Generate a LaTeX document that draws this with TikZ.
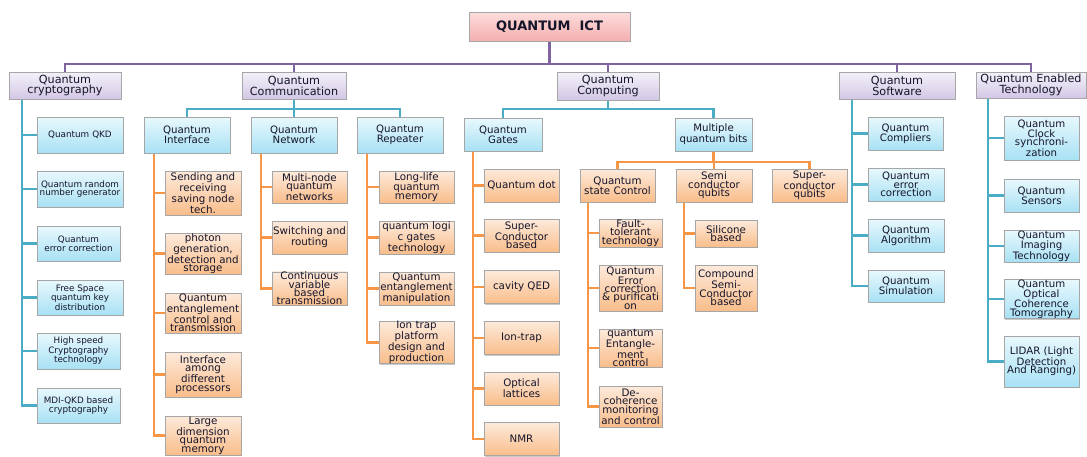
\documentclass[tikz,border=0pt]{standalone}
\usepackage{fontspec}
\setmainfont{DejaVu Sans}
\usetikzlibrary{shadows,backgrounds}
\definecolor{pline}{HTML}{8064A2}
\definecolor{tline}{HTML}{4BACC6}
\definecolor{oline}{HTML}{F79646}
\definecolor{boxgray}{HTML}{A6A6A6}
\definecolor{txt}{HTML}{15152A}
\definecolor{rootTop}{HTML}{FCDDDD}
\definecolor{rootBot}{HTML}{F5AEAE}
\definecolor{purTop}{HTML}{F4F1F9}
\definecolor{purBot}{HTML}{D3C7E5}
\definecolor{bluTop}{HTML}{E8F8FD}
\definecolor{bluBot}{HTML}{A8E1F4}
\definecolor{orTop}{HTML}{FDEADB}
\definecolor{orBot}{HTML}{F9BD8A}
\begin{document}
\begin{tikzpicture}[x=1pt,y=-1pt,
  box/.style={draw=boxgray, line width=0.8pt, inner sep=0pt, align=center, text=txt,
    drop shadow={shadow xshift=1.2pt, shadow yshift=-1.2pt, opacity=0.35, fill=black!60}},
  rootbox/.style={box, top color=rootTop, bottom color=rootBot, font=\fontsize{13}{14}\selectfont\bfseries},
  lvlone/.style={box, top color=purTop, bottom color=purBot, font=\fontsize{11.2}{9.3}\selectfont},
  bluebox/.style={box, top color=bluTop, bottom color=bluBot, font=\fontsize{10.2}{8.4}\selectfont},
  smallblue/.style={box, top color=bluTop, bottom color=bluBot, font=\fontsize{8.8}{7.6}\selectfont},
  orbox/.style={box, top color=orTop, bottom color=orBot, font=\fontsize{10.3}{8.4}\selectfont},
  pcon/.style={draw=pline, line width=2.9pt},
  tcon/.style={draw=tline, line width=2.9pt},
  ocon/.style={draw=oline, line width=2.9pt}]
\useasboundingbox (0,0) rectangle (1087,456);

% root and level one
\node[rootbox, minimum width=161, minimum height=29] (root) at (549.5,26.5) {QUANTUM\hspace{9pt}ICT};
\node[lvlone, minimum width=112, minimum height=27] (crypto) at (65,85.5) {Quantum\\cryptography};
\node[lvlone, minimum width=104, minimum height=27] (comm) at (294,85.5) {Quantum\\Communication};
\node[lvlone, minimum width=102, minimum height=28] (comp) at (608,86) {Quantum\\Computing};
\node[lvlone, minimum width=116, minimum height=27] (soft) at (897,85.5) {Quantum\\Software};
\node[lvlone, minimum width=110, minimum height=26] (enab) at (1031,85) {Quantum Enabled\\Technology};

% cryptography children
\node[smallblue, minimum width=86, minimum height=36] (qkd) at (80,135) {Quantum\hspace{3pt}QKD};
\node[smallblue, minimum width=86, minimum height=36] (qrng) at (80,189) {Quantum random\\number generator};
\node[smallblue, minimum width=83, minimum height=35] (qeca) at (78.5,243.5) {Quantum\\error correction};
\node[smallblue, minimum width=86, minimum height=35] (fsq) at (80,297.5) {Free Space\\quantum key\\distribution};
\node[smallblue, minimum width=83, minimum height=36] (hsc) at (78.5,351) {High speed\\Cryptography\\technology};
\node[smallblue, minimum width=83, minimum height=35] (mdi) at (78.5,405.5) {MDI-QKD based\\cryptography};

% communication children
\node[bluebox, minimum width=86, minimum height=36] (intf) at (187,135) {Quantum\\Interface};
\node[bluebox, minimum width=86, minimum height=36] (netw) at (294,135) {Quantum\\Network};
\node[bluebox, minimum width=86, minimum height=36] (rep) at (400,135) {Quantum\\Repeater};

% interface children
\node[orbox, minimum width=76, minimum height=44] (snd) at (203,193) {Sending and\\receiving\\saving node\\tech.};
\node[orbox, minimum width=76, minimum height=41] (pho) at (203,253.5) {photon\\generation,\\detection and\\storage};
\node[orbox, minimum width=76, minimum height=40] (ent) at (203,313) {Quantum\\entanglement\\control and\\transmission};
\node[orbox, minimum width=76, minimum height=45] (ifc) at (203,374.5) {Interface\\among\\different\\processors};
\node[orbox, minimum width=76, minimum height=39] (ldq) at (203,435.5) {Large\\dimension\\quantum\\memory};

% network children
\node[orbox, minimum width=75, minimum height=32] (mnq) at (309.5,187) {Multi-node\\quantum\\networks};
\node[orbox, minimum width=75, minimum height=33] (sar) at (309.5,237.5) {Switching and\\routing};
\node[orbox, minimum width=75, minimum height=33] (cvb) at (309.5,288.5) {Continuous\\variable\\based\\transmission};

% repeater children
\node[orbox, minimum width=75, minimum height=32] (llq) at (416.5,187) {Long-life\\quantum\\memory};
\node[orbox, minimum width=75, minimum height=33] (qlg) at (416.5,237.5) {quantum logi\\c gates\\technology};
\node[orbox, minimum width=75, minimum height=33] (qem) at (416.5,288.5) {Quantum\\entanglement\\manipulation};
\node[orbox, minimum width=75, minimum height=39] (itp) at (416.5,342.5) {Ion trap\\platform\\design and\\production};

% computing children
\node[bluebox, minimum width=78, minimum height=33] (gates) at (503,134.5) {Quantum\\Gates};
\node[bluebox, minimum width=77, minimum height=33] (mqb) at (713.5,134.5) {Multiple\\quantum bits};

% gates children
\node[orbox, minimum width=75, minimum height=33] (qdot) at (521.5,185.5) {Quantum dot};
\node[orbox, minimum width=75, minimum height=33] (scb) at (521.5,235.5) {Super-\\Conductor\\based};
\node[orbox, minimum width=75, minimum height=33] (cqed) at (521.5,287) {cavity QED};
\node[orbox, minimum width=75, minimum height=33] (iont) at (521.5,338) {Ion-trap};
\node[orbox, minimum width=75, minimum height=33] (optl) at (521.5,388.5) {Optical\\lattices};
\node[orbox, minimum width=75, minimum height=33] (nmr) at (521.5,439) {NMR};

% multiple qubits children
\node[orbox, minimum width=75, minimum height=33] (qsc) at (617.5,185.5) {Quantum\\state Control};
\node[orbox, minimum width=76, minimum height=33] (scq) at (714,185.5) {Semi\\conductor\\qubits};
\node[orbox, minimum width=75, minimum height=33] (supq) at (809.5,185.5) {Super-\\conductor\\qubits};

% state control children
\node[orbox, minimum width=63, minimum height=28] (ftt) at (630.5,233) {Fault-\\tolerant\\technology};
\node[orbox, minimum width=63, minimum height=46] (qecp) at (630.5,288) {Quantum\\Error\\correction\\\& purificati\\on};
\node[orbox, minimum width=63, minimum height=38] (qent) at (630.5,348) {quantum\\Entangle-\\ment\\control};
\node[orbox, minimum width=63, minimum height=41] (dec) at (630.5,406.5) {De-\\coherence\\monitoring\\and control};

% semiconductor children
\node[orbox, minimum width=62, minimum height=27] (sil) at (726,233.5) {Silicone\\based};
\node[orbox, minimum width=62, minimum height=46] (csc) at (726,288) {Compound\\Semi-\\Conductor\\based};

% software children
\node[bluebox, minimum width=75, minimum height=33] (cmpl) at (905.5,133.5) {Quantum\\Compliers};
\node[bluebox, minimum width=76, minimum height=33] (qecb) at (906,184.5) {Quantum\\error\\correction};
\node[bluebox, minimum width=76, minimum height=33] (alg) at (906,235.5) {Quantum\\Algorithm};
\node[bluebox, minimum width=76, minimum height=32] (sim) at (906,286) {Quantum\\Simulation};

% enabled technology children
\node[bluebox, minimum width=75, minimum height=44] (clk) at (1041.5,138) {Quantum\\Clock\\synchroni-\\zation};
\node[bluebox, minimum width=75, minimum height=33] (sen) at (1041.5,195.5) {Quantum\\Sensors};
\node[bluebox, minimum width=75, minimum height=32] (img) at (1041.5,246) {Quantum\\Imaging\\Technology};
\node[bluebox, minimum width=75, minimum height=36] (oct) at (1041.5,299) {Quantum\\Optical\\Coherence\\Tomography};
\node[bluebox, minimum width=75, minimum height=51] (lid) at (1041.5,361.5) {LIDAR (Light\\Detection\\And Ranging)};

% helper coordinates
\coordinate (busA) at (0,64);
\coordinate (busB) at (0,109);
\coordinate (busC) at (0,162);
\coordinate (spc) at (22,0);
\coordinate (spi) at (154,0);
\coordinate (spn) at (261,0);
\coordinate (spr) at (367,0);
\coordinate (spg) at (473,0);
\coordinate (spq) at (588,0);
\coordinate (sps) at (684,0);
\coordinate (spw) at (852,0);
\coordinate (spe) at (988,0);

\begin{scope}[on background layer]
\fill[white] (0,0) rectangle (1087,456);
% level one bus
\foreach \c in {crypto,comm,comp,soft,enab}
  \draw[pcon] (root.south) |- (busA -| \c.north) -- (\c.north);
% communication / computing buses
\foreach \c in {intf,netw,rep}
  \draw[tcon] (comm.south) |- (busB -| \c.north) -- (\c.north);
\foreach \c in {gates,mqb}
  \draw[tcon] (comp.south) |- (busB -| \c.north) -- (\c.north);
\foreach \c in {qsc,scq,supq}
  \draw[ocon] (mqb.south) |- (busC -| \c.north) -- (\c.north);
% spines
\foreach \c in {qkd,qrng,qeca,fsq,hsc,mdi}
  \draw[tcon] (crypto.south -| spc) |- (\c.west);
\foreach \c in {snd,pho,ent,ifc,ldq}
  \draw[ocon] (intf.south -| spi) |- (\c.west);
\foreach \c in {mnq,sar,cvb}
  \draw[ocon] (netw.south -| spn) |- (\c.west);
\foreach \c in {llq,qlg,qem,itp}
  \draw[ocon] (rep.south -| spr) |- (\c.west);
\foreach \c in {qdot,scb,cqed,iont,optl,nmr}
  \draw[ocon] (gates.south -| spg) |- (\c.west);
\foreach \c in {ftt,qecp,qent,dec}
  \draw[ocon] (qsc.south -| spq) |- (\c.west);
\foreach \c in {sil,csc}
  \draw[ocon] (scq.south -| sps) |- (\c.west);
\foreach \c in {cmpl,qecb,alg,sim}
  \draw[tcon] (soft.south -| spw) |- (\c.west);
\foreach \c in {clk,sen,img,oct,lid}
  \draw[tcon] (enab.south -| spe) |- (\c.west);
\end{scope}
\end{tikzpicture}
\end{document}
